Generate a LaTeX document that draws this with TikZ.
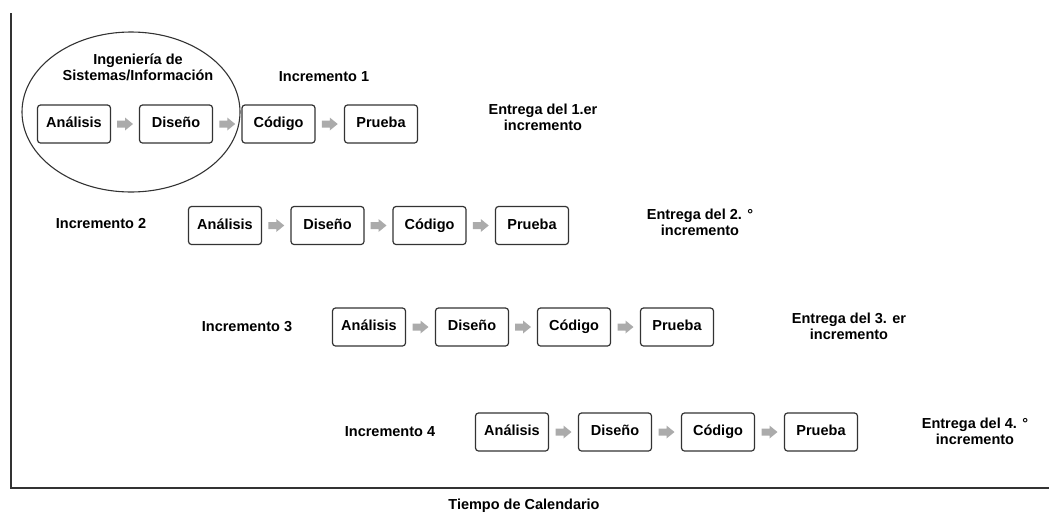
\documentclass[tikz,border=0pt]{standalone}
\usepackage{fontspec}
\setmainfont{Liberation Sans}
\usetikzlibrary{shapes.geometric}
\definecolor{arrgray}{HTML}{ABABAB}
\definecolor{linegray}{HTML}{333333}
\tikzset{
  stagebox/.style={draw=linegray, line width=1.2pt, rounded corners=3pt, minimum width=73pt, minimum height=38pt, inner sep=0pt, text height=10.5pt, text depth=3pt, font=\bfseries\fontsize{14.5}{17}\selectfont},
  garrowfill/.style={fill=arrgray, draw=none},
  lbl/.style={font=\bfseries\fontsize{14.5}{16}\selectfont, align=center, inner sep=0pt},
  axisline/.style={draw=linegray, line width=1.4pt}
}
\newcommand{\blockarrow}[2]{%
  \path (#1) -- coordinate[midway] (m#1#2) (#2);
  \fill[garrowfill, shift={(m#1#2)}] (-8,-3.5) -- (0,-3.5) -- (0,-6.5) -- (8,0) -- (0,6.5) -- (0,3.5) -- (-8,3.5) -- cycle;
}
\begin{document}
\begin{tikzpicture}[x=1pt,y=-1pt]
\useasboundingbox (0,0) rectangle (1049,520);
% axes
\coordinate (top) at (11,13);
\coordinate (origin) at (11,488);
\coordinate (right) at (1049,488);
\draw[axisline] (top) -- (origin) -- (right);
% ellipse
\node[draw=linegray, line width=1.1pt, ellipse, minimum width=218pt, minimum height=160pt, inner sep=0pt] (eng) at (131,112) {};
\node[lbl] (englbl) at (138,67) {Ingeniería de\\Sistemas/Información};
% row 1
\node[stagebox] (a1) at (74,124) {Análisis};
\node[stagebox] (d1) at (176,124) {Diseño};
\node[stagebox] (c1) at (278.5,124) {Código};
\node[stagebox] (p1) at (381,124) {Prueba};
\node[lbl] (i1) at (324,77) {Incremento 1};
\node[lbl] (e1) at (543,117) {Entrega del 1.er\\incremento};
% row 2
\node[stagebox] (a2) at (225,225.5) {Análisis};
\node[stagebox] (d2) at (327.5,225.5) {Diseño};
\node[stagebox] (c2) at (429.5,225.5) {Código};
\node[stagebox] (p2) at (532,225.5) {Prueba};
\node[lbl] (i2) at (101,224) {Incremento 2};
\node[lbl] (e2) at (700,222) {Entrega del 2. °\\incremento};
% row 3
\node[stagebox] (a3) at (369,327) {Análisis};
\node[stagebox] (d3) at (472,327) {Diseño};
\node[stagebox] (c3) at (574,327) {Código};
\node[stagebox] (p3) at (677,327) {Prueba};
\node[lbl] (i3) at (247,327) {Incremento 3};
\node[lbl] (e3) at (849,326) {Entrega del 3. er\\incremento};
% row 4
\node[stagebox] (a4) at (512,432) {Análisis};
\node[stagebox] (d4) at (615,432) {Diseño};
\node[stagebox] (c4) at (718,432) {Código};
\node[stagebox] (p4) at (821,432) {Prueba};
\node[lbl] (i4) at (390,432) {Incremento 4};
\node[lbl] (e4) at (975,431) {Entrega del 4. °\\incremento};
% arrows
\foreach \r in {1,2,3,4}{
  \blockarrow{a\r}{d\r}
  \blockarrow{d\r}{c\r}
  \blockarrow{c\r}{p\r}
}
\node[lbl] (tc) at (524,506) {Tiempo de Calendario};
\end{tikzpicture}
\end{document}
